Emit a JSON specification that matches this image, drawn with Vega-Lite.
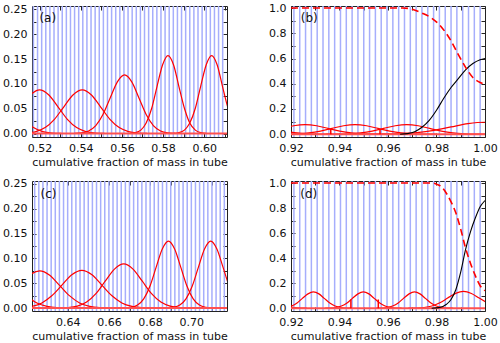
{
"$schema":"https://vega.github.io/schema/vega-lite/v6.json",
"padding":{"left":2,"top":1,"right":5,"bottom":2},
"spacing":8,
"config":{"axis":{"labelFont":"DejaVu Sans","labelFontSize":11,"labelColor":"#111","titleFont":"DejaVu Sans","titleFontSize":11,"titleFontWeight":"normal","titleColor":"#111","tickColor":"#222","domain":false,"grid":false,"labelFlush":false,"labelOverlap":false},"view":{"stroke":"#222","strokeWidth":1}},
"datasets":{
"gridA":[{"x":0.517},{"x":0.519},{"x":0.521},{"x":0.523},{"x":0.525},{"x":0.527},{"x":0.529},{"x":0.531},{"x":0.533},{"x":0.535},{"x":0.537},{"x":0.539},{"x":0.541},{"x":0.543},{"x":0.545},{"x":0.547},{"x":0.549},{"x":0.551},{"x":0.553},{"x":0.555},{"x":0.557},{"x":0.559},{"x":0.561},{"x":0.563},{"x":0.565},{"x":0.567},{"x":0.569},{"x":0.571},{"x":0.573},{"x":0.575},{"x":0.577},{"x":0.579},{"x":0.581},{"x":0.583},{"x":0.585},{"x":0.587},{"x":0.589},{"x":0.591},{"x":0.593},{"x":0.595},{"x":0.597},{"x":0.599},{"x":0.601},{"x":0.603},{"x":0.605},{"x":0.607},{"x":0.609}],
"gridC":[{"x":0.624},{"x":0.626},{"x":0.628},{"x":0.630},{"x":0.632},{"x":0.634},{"x":0.636},{"x":0.638},{"x":0.640},{"x":0.642},{"x":0.644},{"x":0.646},{"x":0.648},{"x":0.650},{"x":0.652},{"x":0.654},{"x":0.656},{"x":0.658},{"x":0.660},{"x":0.662},{"x":0.664},{"x":0.666},{"x":0.668},{"x":0.670},{"x":0.672},{"x":0.674},{"x":0.676},{"x":0.678},{"x":0.680},{"x":0.682},{"x":0.684},{"x":0.686},{"x":0.688},{"x":0.690},{"x":0.692},{"x":0.694},{"x":0.696},{"x":0.698},{"x":0.700},{"x":0.702},{"x":0.704},{"x":0.706},{"x":0.708},{"x":0.710},{"x":0.712},{"x":0.714},{"x":0.716}],
"gridB":[{"x":0.9212},{"x":0.9236},{"x":0.9260},{"x":0.9284},{"x":0.9308},{"x":0.9332},{"x":0.9356},{"x":0.9380},{"x":0.9404},{"x":0.9428},{"x":0.9452},{"x":0.9476},{"x":0.9500},{"x":0.9524},{"x":0.9548},{"x":0.9572},{"x":0.9596},{"x":0.9620},{"x":0.9644},{"x":0.9668},{"x":0.9692},{"x":0.9716},{"x":0.9740},{"x":0.9764},{"x":0.9788},{"x":0.9812},{"x":0.9836},{"x":0.9860},{"x":0.9884},{"x":0.9908},{"x":0.9932},{"x":0.9956},{"x":0.9980}],
"base":[{"x":0.5,"y":0},{"x":1.1,"y":0}],
"curvesA":[
{"c":"c0","x":0.508,"y":0.0534},{"c":"c0","x":0.5125,"y":0.0286},{"c":"c0","x":0.517,"y":0.0119},{"c":"c0","x":0.5215,"y":0.0039},{"c":"c0","x":0.526,"y":0.0010},{"c":"c0","x":0.5305,"y":0.0002},
{"c":"c1","x":0.5065,"y":0.0286},{"c":"c1","x":0.511,"y":0.0534},{"c":"c1","x":0.5155,"y":0.0777},{"c":"c1","x":0.52,"y":0.088},{"c":"c1","x":0.5245,"y":0.0777},{"c":"c1","x":0.529,"y":0.0534},{"c":"c1","x":0.5335,"y":0.0286},{"c":"c1","x":0.538,"y":0.0119},{"c":"c1","x":0.5425,"y":0.0039},{"c":"c1","x":0.547,"y":0.0010},{"c":"c1","x":0.5515,"y":0.0002},
{"c":"c2","x":0.5092,"y":0.0002},{"c":"c2","x":0.5137,"y":0.0010},{"c":"c2","x":0.5182,"y":0.0039},{"c":"c2","x":0.5227,"y":0.0119},{"c":"c2","x":0.5272,"y":0.0286},{"c":"c2","x":0.5317,"y":0.0534},{"c":"c2","x":0.5362,"y":0.0777},{"c":"c2","x":0.5407,"y":0.088},{"c":"c2","x":0.5452,"y":0.0777},{"c":"c2","x":0.5497,"y":0.0534},{"c":"c2","x":0.5542,"y":0.0286},{"c":"c2","x":0.5587,"y":0.0119},{"c":"c2","x":0.5632,"y":0.0039},{"c":"c2","x":0.5677,"y":0.0010},{"c":"c2","x":0.5722,"y":0.0002},
{"c":"c3","x":0.5368,"y":0.0003},{"c":"c3","x":0.5403,"y":0.0013},{"c":"c3","x":0.5438,"y":0.0052},{"c":"c3","x":0.5473,"y":0.0160},{"c":"c3","x":0.5508,"y":0.0383},{"c":"c3","x":0.5543,"y":0.0716},{"c":"c3","x":0.5578,"y":0.1041},{"c":"c3","x":0.5613,"y":0.118},{"c":"c3","x":0.5648,"y":0.1041},{"c":"c3","x":0.5683,"y":0.0716},{"c":"c3","x":0.5718,"y":0.0383},{"c":"c3","x":0.5753,"y":0.0160},{"c":"c3","x":0.5788,"y":0.0052},{"c":"c3","x":0.5823,"y":0.0013},{"c":"c3","x":0.5858,"y":0.0003},
{"c":"c4","x":0.5639,"y":0.0003},{"c":"c4","x":0.5665,"y":0.0017},{"c":"c4","x":0.5692,"y":0.0069},{"c":"c4","x":0.5718,"y":0.0212},{"c":"c4","x":0.5745,"y":0.0510},{"c":"c4","x":0.5771,"y":0.0952},{"c":"c4","x":0.5798,"y":0.1386},{"c":"c4","x":0.5824,"y":0.157},{"c":"c4","x":0.5851,"y":0.1386},{"c":"c4","x":0.5877,"y":0.0952},{"c":"c4","x":0.5904,"y":0.0510},{"c":"c4","x":0.5930,"y":0.0212},{"c":"c4","x":0.5957,"y":0.0069},{"c":"c4","x":0.5983,"y":0.0017},{"c":"c4","x":0.6010,"y":0.0003},
{"c":"c5","x":0.5851,"y":0.0003},{"c":"c5","x":0.5877,"y":0.0017},{"c":"c5","x":0.5904,"y":0.0069},{"c":"c5","x":0.5930,"y":0.0212},{"c":"c5","x":0.5957,"y":0.0510},{"c":"c5","x":0.5983,"y":0.0952},{"c":"c5","x":0.6010,"y":0.1386},{"c":"c5","x":0.6036,"y":0.157},{"c":"c5","x":0.6063,"y":0.1386},{"c":"c5","x":0.6089,"y":0.0952},{"c":"c5","x":0.6116,"y":0.0510},{"c":"c5","x":0.6142,"y":0.0212}],
"curvesC":[
{"c":"c0","x":0.6057,"y":0.075},{"c":"c0","x":0.6106,"y":0.0662},{"c":"c0","x":0.6154,"y":0.0455},{"c":"c0","x":0.6203,"y":0.0244},{"c":"c0","x":0.6251,"y":0.0101},{"c":"c0","x":0.6300,"y":0.0033},{"c":"c0","x":0.6348,"y":0.0008},{"c":"c0","x":0.6397,"y":0.0002},
{"c":"c1","x":0.6070,"y":0.0101},{"c":"c1","x":0.6118,"y":0.0244},{"c":"c1","x":0.6167,"y":0.0455},{"c":"c1","x":0.6215,"y":0.0662},{"c":"c1","x":0.6264,"y":0.075},{"c":"c1","x":0.6313,"y":0.0662},{"c":"c1","x":0.6361,"y":0.0455},{"c":"c1","x":0.6410,"y":0.0244},{"c":"c1","x":0.6458,"y":0.0101},{"c":"c1","x":0.6507,"y":0.0033},{"c":"c1","x":0.6555,"y":0.0008},{"c":"c1","x":0.6604,"y":0.0002},
{"c":"c2","x":0.6129,"y":0.0002},{"c":"c2","x":0.6178,"y":0.0008},{"c":"c2","x":0.6226,"y":0.0033},{"c":"c2","x":0.6275,"y":0.0103},{"c":"c2","x":0.6323,"y":0.0247},{"c":"c2","x":0.6372,"y":0.0461},{"c":"c2","x":0.6420,"y":0.0671},{"c":"c2","x":0.6469,"y":0.076},{"c":"c2","x":0.6518,"y":0.0671},{"c":"c2","x":0.6566,"y":0.0461},{"c":"c2","x":0.6615,"y":0.0247},{"c":"c2","x":0.6663,"y":0.0103},{"c":"c2","x":0.6712,"y":0.0033},{"c":"c2","x":0.6760,"y":0.0008},{"c":"c2","x":0.6809,"y":0.0002},
{"c":"c3","x":0.6357,"y":0.0002},{"c":"c3","x":0.6402,"y":0.0010},{"c":"c3","x":0.6447,"y":0.0039},{"c":"c3","x":0.6492,"y":0.0120},{"c":"c3","x":0.6537,"y":0.0289},{"c":"c3","x":0.6582,"y":0.0540},{"c":"c3","x":0.6627,"y":0.0785},{"c":"c3","x":0.6672,"y":0.089},{"c":"c3","x":0.6717,"y":0.0785},{"c":"c3","x":0.6762,"y":0.0540},{"c":"c3","x":0.6807,"y":0.0289},{"c":"c3","x":0.6852,"y":0.0120},{"c":"c3","x":0.6897,"y":0.0039},{"c":"c3","x":0.6942,"y":0.0010},{"c":"c3","x":0.6987,"y":0.0002},
{"c":"c4","x":0.6679,"y":0.0003},{"c":"c4","x":0.6709,"y":0.0015},{"c":"c4","x":0.6739,"y":0.0059},{"c":"c4","x":0.6769,"y":0.0183},{"c":"c4","x":0.6799,"y":0.0438},{"c":"c4","x":0.6829,"y":0.0819},{"c":"c4","x":0.6859,"y":0.1191},{"c":"c4","x":0.6889,"y":0.135},{"c":"c4","x":0.6919,"y":0.1191},{"c":"c4","x":0.6949,"y":0.0819},{"c":"c4","x":0.6979,"y":0.0438},{"c":"c4","x":0.7009,"y":0.0183},{"c":"c4","x":0.7039,"y":0.0059},{"c":"c4","x":0.7069,"y":0.0015},{"c":"c4","x":0.7099,"y":0.0003},
{"c":"c5","x":0.6884,"y":0.0003},{"c":"c5","x":0.6914,"y":0.0015},{"c":"c5","x":0.6944,"y":0.0059},{"c":"c5","x":0.6974,"y":0.0183},{"c":"c5","x":0.7004,"y":0.0438},{"c":"c5","x":0.7034,"y":0.0819},{"c":"c5","x":0.7064,"y":0.1191},{"c":"c5","x":0.7094,"y":0.135},{"c":"c5","x":0.7124,"y":0.1191},{"c":"c5","x":0.7154,"y":0.0819},{"c":"c5","x":0.7184,"y":0.0438},{"c":"c5","x":0.7214,"y":0.0183}],
"curvesB":[
{"c":"c0","x":0.9130,"y":0.0461},{"c":"c0","x":0.9178,"y":0.0247},{"c":"c0","x":0.9225,"y":0.0103},{"c":"c0","x":0.9273,"y":0.0033},{"c":"c0","x":0.9320,"y":0.0008},{"c":"c0","x":0.9368,"y":0.0002},
{"c":"c1","x":0.9116,"y":0.0247},{"c":"c1","x":0.9163,"y":0.0461},{"c":"c1","x":0.9211,"y":0.0671},{"c":"c1","x":0.9258,"y":0.076},{"c":"c1","x":0.9306,"y":0.0671},{"c":"c1","x":0.9353,"y":0.0461},{"c":"c1","x":0.9401,"y":0.0247},{"c":"c1","x":0.9448,"y":0.0103},{"c":"c1","x":0.9496,"y":0.0033},{"c":"c1","x":0.9543,"y":0.0008},{"c":"c1","x":0.9591,"y":0.0002},
{"c":"c2","x":0.9132,"y":0.0002},{"c":"c2","x":0.9179,"y":0.0008},{"c":"c2","x":0.9227,"y":0.0033},{"c":"c2","x":0.9274,"y":0.0103},{"c":"c2","x":0.9322,"y":0.0247},{"c":"c2","x":0.9369,"y":0.0461},{"c":"c2","x":0.9417,"y":0.0671},{"c":"c2","x":0.9464,"y":0.076},{"c":"c2","x":0.9512,"y":0.0671},{"c":"c2","x":0.9559,"y":0.0461},{"c":"c2","x":0.9607,"y":0.0247},{"c":"c2","x":0.9654,"y":0.0103},{"c":"c2","x":0.9702,"y":0.0033},{"c":"c2","x":0.9749,"y":0.0008},{"c":"c2","x":0.9797,"y":0.0002},
{"c":"c3","x":0.9345,"y":0.0002},{"c":"c3","x":0.9392,"y":0.0008},{"c":"c3","x":0.9440,"y":0.0033},{"c":"c3","x":0.9487,"y":0.0103},{"c":"c3","x":0.9535,"y":0.0247},{"c":"c3","x":0.9582,"y":0.0461},{"c":"c3","x":0.9630,"y":0.0671},{"c":"c3","x":0.9677,"y":0.076},{"c":"c3","x":0.9725,"y":0.0671},{"c":"c3","x":0.9772,"y":0.0461},{"c":"c3","x":0.9820,"y":0.0247},{"c":"c3","x":0.9867,"y":0.0103},{"c":"c3","x":0.9915,"y":0.0033},{"c":"c3","x":0.9962,"y":0.0008},{"c":"c3","x":1.0010,"y":0.0002},
{"c":"c4","x":0.951,"y":0.0002},{"c":"c4","x":0.958,"y":0.0011},{"c":"c4","x":0.965,"y":0.0042},{"c":"c4","x":0.972,"y":0.0129},{"c":"c4","x":0.979,"y":0.0308},{"c":"c4","x":0.986,"y":0.0576},{"c":"c4","x":0.993,"y":0.0838},{"c":"c4","x":1.000,"y":0.095},{"c":"c4","x":1.007,"y":0.0838}],
"curvesD":[
{"c":"c0","x":0.9115,"y":0.1147},{"c":"c0","x":0.9140,"y":0.0788},{"c":"c0","x":0.9165,"y":0.0422},{"c":"c0","x":0.9190,"y":0.0176},{"c":"c0","x":0.9215,"y":0.0057},{"c":"c0","x":0.9240,"y":0.0014},{"c":"c0","x":0.9265,"y":0.0003},
{"c":"c1","x":0.9135,"y":0.0003},{"c":"c1","x":0.9157,"y":0.0014},{"c":"c1","x":0.9180,"y":0.0057},{"c":"c1","x":0.9202,"y":0.0176},{"c":"c1","x":0.9225,"y":0.0422},{"c":"c1","x":0.9247,"y":0.0788},{"c":"c1","x":0.9270,"y":0.1147},{"c":"c1","x":0.9292,"y":0.13},{"c":"c1","x":0.9315,"y":0.1147},{"c":"c1","x":0.9337,"y":0.0788},{"c":"c1","x":0.9360,"y":0.0422},{"c":"c1","x":0.9382,"y":0.0176},{"c":"c1","x":0.9405,"y":0.0057},{"c":"c1","x":0.9427,"y":0.0014},{"c":"c1","x":0.9450,"y":0.0003},
{"c":"c2","x":0.9341,"y":0.0003},{"c":"c2","x":0.9363,"y":0.0014},{"c":"c2","x":0.9386,"y":0.0057},{"c":"c2","x":0.9408,"y":0.0176},{"c":"c2","x":0.9431,"y":0.0422},{"c":"c2","x":0.9453,"y":0.0788},{"c":"c2","x":0.9476,"y":0.1147},{"c":"c2","x":0.9498,"y":0.13},{"c":"c2","x":0.9521,"y":0.1147},{"c":"c2","x":0.9543,"y":0.0788},{"c":"c2","x":0.9566,"y":0.0422},{"c":"c2","x":0.9588,"y":0.0176},{"c":"c2","x":0.9611,"y":0.0057},{"c":"c2","x":0.9633,"y":0.0014},{"c":"c2","x":0.9656,"y":0.0003},
{"c":"c3","x":0.9552,"y":0.0003},{"c":"c3","x":0.9574,"y":0.0014},{"c":"c3","x":0.9597,"y":0.0057},{"c":"c3","x":0.9619,"y":0.0176},{"c":"c3","x":0.9642,"y":0.0422},{"c":"c3","x":0.9664,"y":0.0788},{"c":"c3","x":0.9687,"y":0.1147},{"c":"c3","x":0.9709,"y":0.13},{"c":"c3","x":0.9732,"y":0.1147},{"c":"c3","x":0.9754,"y":0.0788},{"c":"c3","x":0.9777,"y":0.0422},{"c":"c3","x":0.9799,"y":0.0176},{"c":"c3","x":0.9822,"y":0.0057},{"c":"c3","x":0.9844,"y":0.0014},{"c":"c3","x":0.9867,"y":0.0003},
{"c":"c4","x":0.9684,"y":0.0003},{"c":"c4","x":0.9716,"y":0.0015},{"c":"c4","x":0.9749,"y":0.0059},{"c":"c4","x":0.9781,"y":0.0181},{"c":"c4","x":0.9814,"y":0.0435},{"c":"c4","x":0.9846,"y":0.0813},{"c":"c4","x":0.9879,"y":0.1183},{"c":"c4","x":0.9911,"y":0.134},{"c":"c4","x":0.9944,"y":0.1183},{"c":"c4","x":0.9976,"y":0.0813},{"c":"c4","x":1.0009,"y":0.0435}],
"blackB":[{"x":0.965,"y":0},{"x":0.968,"y":0.005},{"x":0.971,"y":0.02},{"x":0.974,"y":0.055},{"x":0.977,"y":0.11},{"x":0.980,"y":0.19},{"x":0.983,"y":0.285},{"x":0.986,"y":0.37},{"x":0.989,"y":0.44},{"x":0.992,"y":0.51},{"x":0.995,"y":0.56},{"x":0.998,"y":0.59},{"x":1.0,"y":0.60}],
"dashB":[{"x":0.92,"y":1.0},{"x":0.966,"y":1.0},{"x":0.970,"y":0.99},{"x":0.974,"y":0.96},{"x":0.978,"y":0.92},{"x":0.982,"y":0.85},{"x":0.986,"y":0.74},{"x":0.989,"y":0.63},{"x":0.992,"y":0.53},{"x":0.995,"y":0.45},{"x":0.998,"y":0.41},{"x":1.0,"y":0.395}],
"blackD":[{"x":0.978,"y":0},{"x":0.981,"y":0.005},{"x":0.984,"y":0.03},{"x":0.986,"y":0.07},{"x":0.988,"y":0.15},{"x":0.990,"y":0.29},{"x":0.992,"y":0.47},{"x":0.994,"y":0.61},{"x":0.996,"y":0.72},{"x":0.998,"y":0.81},{"x":1.0,"y":0.86}],
"dashD":[{"x":0.92,"y":1.0},{"x":0.978,"y":1.0},{"x":0.980,"y":0.99},{"x":0.982,"y":0.97},{"x":0.984,"y":0.92},{"x":0.986,"y":0.85},{"x":0.988,"y":0.76},{"x":0.990,"y":0.63},{"x":0.992,"y":0.48},{"x":0.994,"y":0.36},{"x":0.996,"y":0.26},{"x":0.998,"y":0.18},{"x":1.0,"y":0.14}],
"vtB":[{"x":0.9364,"y":0,"y2":0.042},{"x":0.9567,"y":0,"y2":0.042}],
"vtD":[{"x":0.9447,"y":0,"y2":0.07},{"x":0.956,"y":0,"y2":0.07}]
},
"vconcat":[
{"spacing":40,"hconcat":[
{"width":195,"height":131,"resolve":{"axis":{"x":"independent","y":"independent"}},
"layer":[
{"data":{"name":"gridA"},"mark":{"type":"rule","color":"#a6aefc","strokeWidth":1.5},
 "encoding":{"x":{"field":"x","type":"quantitative","scale":{"domain":[0.5163,0.6111],"nice":false,"zero":false},"axis":{"orient":"bottom","title":"cumulative fraction of mass in tube","values":[0.52,0.53,0.54,0.55,0.56,0.57,0.58,0.59,0.60,0.61],"labelExpr":"round(datum.value*100)%2==0 ? format(datum.value,'.2f') : ''","tickSize":-4,"labelPadding":9,"titlePadding":3}}}},
{"data":{"name":"curvesA"},"mark":{"type":"line","color":"#ff0000","strokeWidth":1.2,"interpolate":"monotone","clip":true},
 "encoding":{"x":{"field":"x","type":"quantitative","scale":{"domain":[0.5163,0.6111],"nice":false,"zero":false},"axis":{"orient":"top","title":null,"labels":false,"values":[0.52,0.53,0.54,0.55,0.56,0.57,0.58,0.59,0.60,0.61],"tickSize":-4}},
 "y":{"field":"y","type":"quantitative","scale":{"domain":[-0.007,0.257],"nice":false,"zero":false},"axis":{"orient":"left","title":null,"values":[0,0.025,0.05,0.075,0.1,0.125,0.15,0.175,0.2,0.225,0.25],"labelExpr":"round(datum.value*1000)%50==0 ? format(datum.value,'.2f') : ''","tickSize":-4,"labelPadding":9}},
 "detail":{"field":"c"}}},
{"data":{"name":"base"},"mark":{"type":"line","color":"#ff5050","strokeWidth":2,"clip":true},
 "encoding":{"x":{"field":"x","type":"quantitative","scale":{"domain":[0.5163,0.6111],"nice":false,"zero":false},"axis":null},
 "y":{"field":"y","type":"quantitative","scale":{"domain":[-0.007,0.257],"nice":false,"zero":false},"axis":{"orient":"right","title":null,"labels":false,"values":[0,0.025,0.05,0.075,0.1,0.125,0.15,0.175,0.2,0.225,0.25],"tickSize":-4}}}},
{"data":{"values":[{"label":"(a)","x":0.5199,"y":0.2325}]},"mark":{"type":"text","align":"left","baseline":"middle","fontSize":12,"font":"DejaVu Sans","color":"#111"},
 "encoding":{"x":{"field":"x","type":"quantitative","scale":{"domain":[0.5163,0.6111],"nice":false,"zero":false},"axis":null},"y":{"field":"y","type":"quantitative","scale":{"domain":[-0.007,0.257],"nice":false,"zero":false},"axis":null},"text":{"field":"label"}}}
]},
{"width":194,"height":131,"resolve":{"axis":{"x":"independent","y":"independent"}},
"layer":[
{"data":{"name":"gridB"},"mark":{"type":"rule","color":"#a6aefc","strokeWidth":1.5},
 "encoding":{"x":{"field":"x","type":"quantitative","scale":{"domain":[0.92,1.0],"nice":false,"zero":false},"axis":{"orient":"bottom","title":"cumulative fraction of mass in tube","values":[0.92,0.93,0.94,0.95,0.96,0.97,0.98,0.99,1.0],"labelExpr":"round(datum.value*100)%2==0 ? format(datum.value,'.2f') : ''","tickSize":-4,"labelPadding":9,"titlePadding":3}}}},
{"data":{"name":"curvesB"},"mark":{"type":"line","color":"#ff0000","strokeWidth":1.2,"interpolate":"monotone","clip":true},
 "encoding":{"x":{"field":"x","type":"quantitative","scale":{"domain":[0.92,1.0],"nice":false,"zero":false},"axis":{"orient":"top","title":null,"labels":false,"values":[0.92,0.93,0.94,0.95,0.96,0.97,0.98,0.99,1.0],"tickSize":-4}},
 "y":{"field":"y","type":"quantitative","scale":{"domain":[-0.022,1.016],"nice":false,"zero":false},"axis":{"orient":"left","title":null,"values":[0,0.1,0.2,0.3,0.4,0.5,0.6,0.7,0.8,0.9,1.0],"labelExpr":"round(datum.value*10)%2==0 ? format(datum.value,'.1f') : ''","tickSize":-4,"labelPadding":9}},
 "detail":{"field":"c"}}},
{"data":{"name":"base"},"mark":{"type":"line","color":"#ff5050","strokeWidth":2,"clip":true},
 "encoding":{"x":{"field":"x","type":"quantitative","scale":{"domain":[0.92,1.0],"nice":false,"zero":false},"axis":null},
 "y":{"field":"y","type":"quantitative","scale":{"domain":[-0.022,1.016],"nice":false,"zero":false},"axis":{"orient":"right","title":null,"labels":false,"values":[0,0.1,0.2,0.3,0.4,0.5,0.6,0.7,0.8,0.9,1.0],"tickSize":-4}}}},
{"data":{"name":"vtB"},"mark":{"type":"rule","color":"#ff0000","strokeWidth":1.5,"clip":true},
 "encoding":{"x":{"field":"x","type":"quantitative","scale":{"domain":[0.92,1.0],"nice":false,"zero":false},"axis":null},"y":{"field":"y","type":"quantitative","scale":{"domain":[-0.022,1.016],"nice":false,"zero":false},"axis":null},"y2":{"field":"y2"}}},
{"data":{"name":"blackB"},"mark":{"type":"line","color":"#000000","strokeWidth":1.1,"interpolate":"monotone","clip":true},
 "encoding":{"x":{"field":"x","type":"quantitative","scale":{"domain":[0.92,1.0],"nice":false,"zero":false},"axis":null},"y":{"field":"y","type":"quantitative","scale":{"domain":[-0.022,1.016],"nice":false,"zero":false},"axis":null}}},
{"data":{"name":"dashB"},"mark":{"type":"line","color":"#ff0000","strokeWidth":1.6,"strokeDash":[7,4],"interpolate":"monotone","clip":true},
 "encoding":{"x":{"field":"x","type":"quantitative","scale":{"domain":[0.92,1.0],"nice":false,"zero":false},"axis":null},"y":{"field":"y","type":"quantitative","scale":{"domain":[-0.022,1.016],"nice":false,"zero":false},"axis":null}}},
{"data":{"values":[{"label":"(b)","x":0.924,"y":0.919}]},"mark":{"type":"text","align":"left","baseline":"middle","fontSize":12,"font":"DejaVu Sans","color":"#111"},
 "encoding":{"x":{"field":"x","type":"quantitative","scale":{"domain":[0.92,1.0],"nice":false,"zero":false},"axis":null},"y":{"field":"y","type":"quantitative","scale":{"domain":[-0.022,1.016],"nice":false,"zero":false},"axis":null},"text":{"field":"label"}}}
]}
]},
{"spacing":40,"hconcat":[
{"width":195,"height":130,"resolve":{"axis":{"x":"independent","y":"independent"}},
"layer":[
{"data":{"name":"gridC"},"mark":{"type":"rule","color":"#a6aefc","strokeWidth":1.5},
 "encoding":{"x":{"field":"x","type":"quantitative","scale":{"domain":[0.6227,0.7173],"nice":false,"zero":false},"axis":{"orient":"bottom","title":"cumulative fraction of mass in tube","values":[0.63,0.64,0.65,0.66,0.67,0.68,0.69,0.70,0.71],"labelExpr":"round(datum.value*100)%2==0 ? format(datum.value,'.2f') : ''","tickSize":-4,"labelPadding":9,"titlePadding":3}}}},
{"data":{"name":"curvesC"},"mark":{"type":"line","color":"#ff0000","strokeWidth":1.2,"interpolate":"monotone","clip":true},
 "encoding":{"x":{"field":"x","type":"quantitative","scale":{"domain":[0.6227,0.7173],"nice":false,"zero":false},"axis":{"orient":"top","title":null,"labels":false,"values":[0.63,0.64,0.65,0.66,0.67,0.68,0.69,0.70,0.71],"tickSize":-4}},
 "y":{"field":"y","type":"quantitative","scale":{"domain":[-0.006,0.256],"nice":false,"zero":false},"axis":{"orient":"left","title":null,"values":[0,0.025,0.05,0.075,0.1,0.125,0.15,0.175,0.2,0.225,0.25],"labelExpr":"round(datum.value*1000)%50==0 ? format(datum.value,'.2f') : ''","tickSize":-4,"labelPadding":9}},
 "detail":{"field":"c"}}},
{"data":{"name":"base"},"mark":{"type":"line","color":"#ff5050","strokeWidth":2,"clip":true},
 "encoding":{"x":{"field":"x","type":"quantitative","scale":{"domain":[0.6227,0.7173],"nice":false,"zero":false},"axis":null},
 "y":{"field":"y","type":"quantitative","scale":{"domain":[-0.006,0.256],"nice":false,"zero":false},"axis":{"orient":"right","title":null,"labels":false,"values":[0,0.025,0.05,0.075,0.1,0.125,0.15,0.175,0.2,0.225,0.25],"tickSize":-4}}}},
{"data":{"values":[{"label":"(c)","x":0.6268,"y":0.23}]},"mark":{"type":"text","align":"left","baseline":"middle","fontSize":12,"font":"DejaVu Sans","color":"#111"},
 "encoding":{"x":{"field":"x","type":"quantitative","scale":{"domain":[0.6227,0.7173],"nice":false,"zero":false},"axis":null},"y":{"field":"y","type":"quantitative","scale":{"domain":[-0.006,0.256],"nice":false,"zero":false},"axis":null},"text":{"field":"label"}}}
]},
{"width":194,"height":130,"resolve":{"axis":{"x":"independent","y":"independent"}},
"layer":[
{"data":{"name":"gridB"},"mark":{"type":"rule","color":"#a6aefc","strokeWidth":1.5},
 "encoding":{"x":{"field":"x","type":"quantitative","scale":{"domain":[0.92,1.0],"nice":false,"zero":false},"axis":{"orient":"bottom","title":"cumulative fraction of mass in tube","values":[0.92,0.93,0.94,0.95,0.96,0.97,0.98,0.99,1.0],"labelExpr":"round(datum.value*100)%2==0 ? format(datum.value,'.2f') : ''","tickSize":-4,"labelPadding":9,"titlePadding":3}}}},
{"data":{"name":"curvesD"},"mark":{"type":"line","color":"#ff0000","strokeWidth":1.2,"interpolate":"monotone","clip":true},
 "encoding":{"x":{"field":"x","type":"quantitative","scale":{"domain":[0.92,1.0],"nice":false,"zero":false},"axis":{"orient":"top","title":null,"labels":false,"values":[0.92,0.93,0.94,0.95,0.96,0.97,0.98,0.99,1.0],"tickSize":-4}},
 "y":{"field":"y","type":"quantitative","scale":{"domain":[-0.022,1.016],"nice":false,"zero":false},"axis":{"orient":"left","title":null,"values":[0,0.1,0.2,0.3,0.4,0.5,0.6,0.7,0.8,0.9,1.0],"labelExpr":"round(datum.value*10)%2==0 ? format(datum.value,'.1f') : ''","tickSize":-4,"labelPadding":9}},
 "detail":{"field":"c"}}},
{"data":{"name":"base"},"mark":{"type":"line","color":"#ff5050","strokeWidth":2,"clip":true},
 "encoding":{"x":{"field":"x","type":"quantitative","scale":{"domain":[0.92,1.0],"nice":false,"zero":false},"axis":null},
 "y":{"field":"y","type":"quantitative","scale":{"domain":[-0.022,1.016],"nice":false,"zero":false},"axis":{"orient":"right","title":null,"labels":false,"values":[0,0.1,0.2,0.3,0.4,0.5,0.6,0.7,0.8,0.9,1.0],"tickSize":-4}}}},
{"data":{"name":"vtD"},"mark":{"type":"rule","color":"#ff0000","strokeWidth":1.5,"clip":true},
 "encoding":{"x":{"field":"x","type":"quantitative","scale":{"domain":[0.92,1.0],"nice":false,"zero":false},"axis":null},"y":{"field":"y","type":"quantitative","scale":{"domain":[-0.022,1.016],"nice":false,"zero":false},"axis":null},"y2":{"field":"y2"}}},
{"data":{"name":"blackD"},"mark":{"type":"line","color":"#000000","strokeWidth":1.1,"interpolate":"monotone","clip":true},
 "encoding":{"x":{"field":"x","type":"quantitative","scale":{"domain":[0.92,1.0],"nice":false,"zero":false},"axis":null},"y":{"field":"y","type":"quantitative","scale":{"domain":[-0.022,1.016],"nice":false,"zero":false},"axis":null}}},
{"data":{"name":"dashD"},"mark":{"type":"line","color":"#ff0000","strokeWidth":1.6,"strokeDash":[7,4],"interpolate":"monotone","clip":true},
 "encoding":{"x":{"field":"x","type":"quantitative","scale":{"domain":[0.92,1.0],"nice":false,"zero":false},"axis":null},"y":{"field":"y","type":"quantitative","scale":{"domain":[-0.022,1.016],"nice":false,"zero":false},"axis":null}}},
{"data":{"values":[{"label":"(d)","x":0.9238,"y":0.914}]},"mark":{"type":"text","align":"left","baseline":"middle","fontSize":12,"font":"DejaVu Sans","color":"#111"},
 "encoding":{"x":{"field":"x","type":"quantitative","scale":{"domain":[0.92,1.0],"nice":false,"zero":false},"axis":null},"y":{"field":"y","type":"quantitative","scale":{"domain":[-0.022,1.016],"nice":false,"zero":false},"axis":null},"text":{"field":"label"}}}
]}
]}
]
}
